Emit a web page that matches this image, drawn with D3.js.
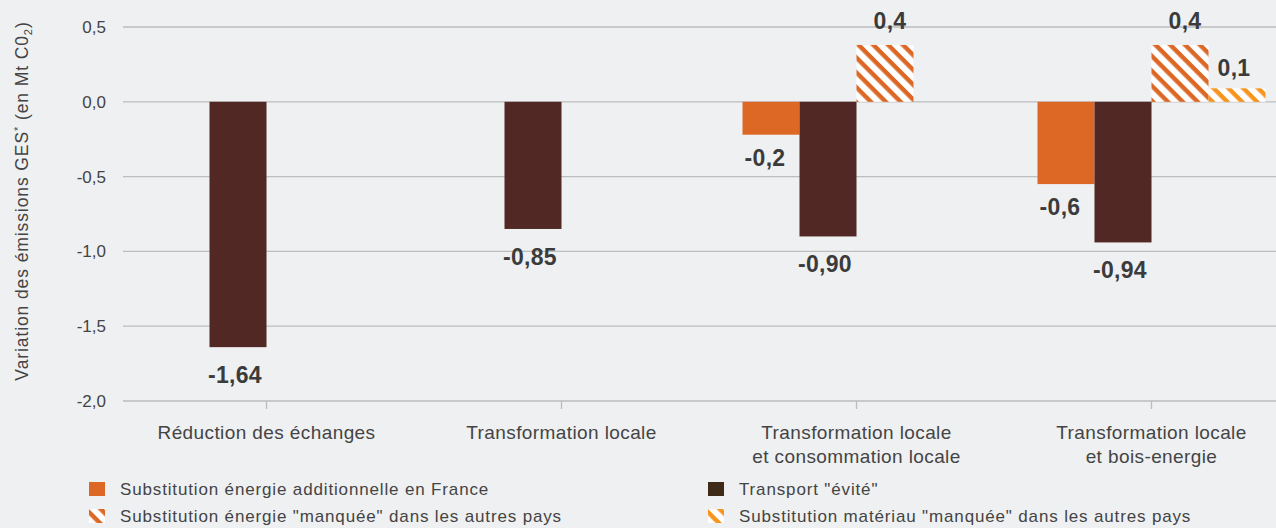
<!DOCTYPE html>
<html>
<head>
<meta charset="utf-8">
<script src="https://cdn.jsdelivr.net/npm/d3@7"></script>
<style>
  body { margin: 0; background: #eff0f2; }
  svg { display: block; font-family: "Liberation Sans", Arial, sans-serif; }
</style>
</head>
<body>
<script>
// data
const categories = [
    ["Réduction des échanges"],
    ["Transformation locale"],
    ["Transformation locale", "et consommation locale"],
    ["Transformation locale", "et bois-energie"]
];
const seriesKeys = ["energieFrance", "transport", "energieAutres", "materiau"];
const seriesNames = [
    "Substitution énergie additionnelle en France",
    "Transport \"évité\"",
    "Substitution énergie \"manquée\" dans les autres pays",
    "Substitution matériau \"manquée\" dans les autres pays"
];
const energieFrance = [null, null, -0.22, -0.55];
const transport = [-1.64, -0.85, -0.90, -0.94];
const energieAutres = [null, null, 0.38, 0.38];
const materiau = [null, null, null, 0.09];
const energieFranceLabels = [null, null, "-0,2", "-0,6"];
const transportLabels = ["-1,64", "-0,85", "-0,90", "-0,94"];
const energieAutresLabels = [null, null, "0,4", "0,4"];
const materiauLabels = [null, null, null, "0,1"];
const yTicks = [0.5, 0, -0.5, -1, -1.5, -2];

const W = 1276, H = 528;
const margin = {top: 27, left: 119, bottom: 127};

let svg = d3.select("body")
            .append("svg")
            .attr("width", W)
            .attr("height", H);

// hatch patterns
let defs = svg.append("defs");
hatch = (id, color, size) => {
    let p = defs.append("pattern")
                .attr("id", id)
                .attr("patternUnits", "userSpaceOnUse")
                .attr("width", size)
                .attr("height", size)
                .attr("patternTransform", "rotate(45)");
    p.append("rect").attr("width", size).attr("height", size).attr("fill", "#fff");
    p.append("rect").attr("width", size).attr("height", size * 0.42).attr("fill", color);
};
hatch("hatchOrange", "#dd6725", 10.5);
hatch("hatchYellow", "#f7941d", 10.5);

const fills = {
    energieFrance: "#dd6725",
    transport: "#512823",
    energieAutres: "url(#hatchOrange)",
    materiau: "url(#hatchYellow)"
};
const legendFills = {
    energieFrance: "#dd6725",
    transport: "#3e2a16",
    energieAutres: "url(#hatchOrange)",
    materiau: "url(#hatchYellow)"
};

let x = d3.scaleBand()
          .domain(d3.range(categories.length))
          .range([margin.left, margin.left + 4 * 295])
          .paddingInner(0);
let xSub = d3.scaleBand()
             .domain(seriesKeys)
             .range([0, 228]);
let y = d3.scaleLinear()
          .domain([-2, 0.5])
          .range([H - margin.bottom, margin.top]);

// grid
svg.append("g")
   .selectAll("line")
   .data(yTicks)
   .join("line")
   .attr("x1", 123)
   .attr("x2", W)
   .attr("y1", d => y(d))
   .attr("y2", d => y(d))
   .attr("stroke", "#bdbdbd")
   .attr("stroke-width", 1.3);

// y axis labels
let yAxis = svg.append("g")
               .attr("transform", "translate(106,0)")
               .call(d3.axisLeft(y).tickValues(yTicks).tickSize(0).tickPadding(0)
                     .tickFormat(d => d3.format(".1f")(d).replace(".", ",").replace("−", "-")));
yAxis.select(".domain").remove();
yAxis.selectAll("text")
     .attr("font-size", 17)
     .attr("font-family", "Liberation Sans, Arial, sans-serif")
     .attr("fill", "#444");

// x axis ticks + labels
let xAxis = svg.append("g")
               .attr("transform", `translate(0,${y(-2)})`)
               .call(d3.axisBottom(x).tickSize(8).tickFormat(""));
xAxis.select(".domain").remove();
xAxis.selectAll("line").attr("stroke", "#bdbdbd").attr("stroke-width", 1.3);

svg.append("g")
   .selectAll("text")
   .data(categories)
   .join("text")
   .attr("x", (d, i) => x(i) + x.bandwidth() / 2)
   .attr("y", 439)
   .attr("text-anchor", "middle")
   .attr("font-size", 19)
   .attr("letter-spacing", 0.4)
   .attr("fill", "#444")
   .selectAll("tspan")
   .data(d => d)
   .join("tspan")
   .attr("x", function() { return this.parentNode.getAttribute("x"); })
   .attr("dy", (d, i) => i === 0 ? 0 : 24)
   .text(d => d);

// bars
const seriesValues = {energieFrance, transport, energieAutres, materiau};
const seriesLabels = {
    energieFrance: energieFranceLabels,
    transport: transportLabels,
    energieAutres: energieAutresLabels,
    materiau: materiauLabels
};
const labelDx = {energieFrance: -6, transport: -3, energieAutres: 5, materiau: -3};
const labelDy = {energieFrance: 31, transport: 36, energieAutres: -16, materiau: -12};

let rows = [];
seriesKeys.forEach(k => {
    seriesValues[k].forEach((v, i) => {
        if (v !== null) rows.push({key: k, i: i, value: v, label: seriesLabels[k][i]});
    });
});
let groupOffset = (x.bandwidth() - xSub.range()[1]) / 2;

svg.append("g")
   .selectAll("rect")
   .data(rows)
   .join("rect")
   .attr("x", d => x(d.i) + groupOffset + xSub(d.key))
   .attr("width", xSub.bandwidth())
   .attr("y", d => y(Math.max(0, d.value)))
   .attr("height", d => Math.abs(y(d.value) - y(0)))
   .attr("fill", d => fills[d.key]);

svg.append("g")
   .selectAll("text")
   .data(rows)
   .join("text")
   .attr("x", d => x(d.i) + groupOffset + xSub(d.key) + xSub.bandwidth() / 2 + labelDx[d.key])
   .attr("y", d => y(d.value) + labelDy[d.key])
   .attr("text-anchor", "middle")
   .attr("font-size", 23)
   .attr("letter-spacing", 0.3)
   .attr("font-weight", "bold")
   .attr("fill", "#3b3b3b")
   .text(d => d.label);

// y axis title
let yTitle = svg.append("text")
                .attr("transform", "translate(28,201) rotate(-90)")
                .attr("text-anchor", "middle")
                .attr("font-size", 17.5)
                .attr("letter-spacing", 0.9)
                .attr("fill", "#444");
yTitle.append("tspan").text("Variation des émissions GES");
yTitle.append("tspan").attr("font-size", 11).attr("dy", -6).text("*");
yTitle.append("tspan").attr("dy", 6).text(" (en Mt C0");
yTitle.append("tspan").attr("font-size", 11).attr("dy", 4).text("2");
yTitle.append("tspan").attr("dy", -4).text(")");

// legend
const legendPos = [[89, 482], [708, 482], [89, 509], [708, 509]];
let legend = svg.append("g")
                .selectAll("g")
                .data(seriesKeys)
                .join("g")
                .attr("transform", (d, i) => `translate(${legendPos[i][0]},${legendPos[i][1]})`);
legend.append("rect")
      .attr("width", 16)
      .attr("height", 14)
      .attr("fill", d => legendFills[d]);
legend.append("text")
      .attr("x", 31)
      .attr("y", 13)
      .attr("font-size", 17)
      .attr("letter-spacing", 0.85)
      .attr("fill", "#444")
      .text((d, i) => seriesNames[i]);
</script>
</body>
</html>
